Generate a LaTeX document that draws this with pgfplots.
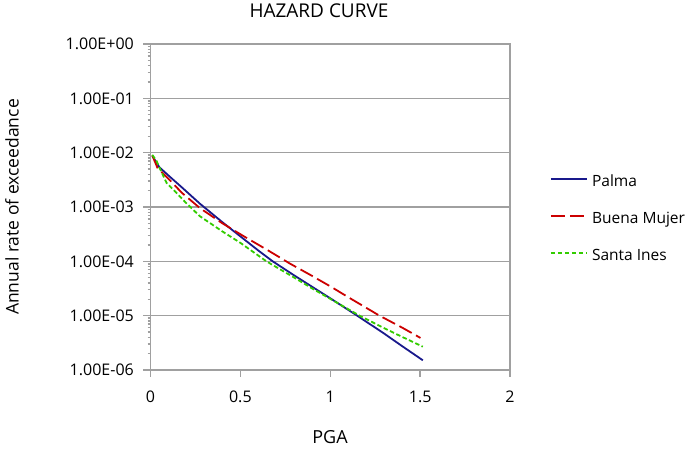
\documentclass[border=0pt]{standalone}
\usepackage{pgfplots}
\pgfplotsset{compat=1.18}
\usepackage{fontspec}
\setmainfont{Open Sans}
\definecolor{cblue}{RGB}{25,25,140}
\definecolor{cred}{RGB}{204,0,0}
\definecolor{cgreen}{RGB}{51,204,0}
\definecolor{cgrid}{RGB}{160,160,160}
\begin{document}
\begin{tikzpicture}[x=1pt,y=1pt]
\path[use as bounding box] (-150.5,-80) rectangle (536.5,370);
\begin{axis}[
  at={(0,0)}, anchor=south west,
  scale only axis, width=359.5pt, height=326pt,
  ymode=log, xmin=0, xmax=2, ymin=1e-6, ymax=1,
  xtick={0,0.5,1,1.5,2}, xticklabels={0,0.5,1,1.5,2},
  ytick={1e-6,1e-5,1e-4,1e-3,1e-2,1e-1,1},
  yticklabels={1.00E-06,1.00E-05,1.00E-04,1.00E-03,1.00E-02,1.00E-01,1.00E+00},
  minor ytick={}, minor xtick={},
  ymajorgrids, grid style={cgrid, line width=1.4pt},
  axis line style={cgrid, line width=1.5pt},
  tick align=outside, major tick length=7pt,
  tick style={cgrid, line width=1.4pt},
  xtick pos=bottom, ytick pos=left,
  xticklabel style={font=\fontsize{16}{19}\selectfont, inner sep=0pt, anchor=north, yshift=-14pt},
  yticklabel style={font=\fontsize{16}{19}\selectfont, inner sep=0pt, anchor=east, xshift=-9.5pt},
  legend style={draw=none, fill=none, at={(1,0.46)}, anchor=west, xshift=36.5pt,
    font=\fontsize{15.5}{18}\selectfont, row sep=22pt, column sep=4pt,
    nodes={inner sep=0pt, text height=11pt, text depth=4pt}},
  legend cell align=left,
  legend image code/.code={\draw[#1, line width=2.4pt] (0pt,4pt) -- (36pt,4pt);},
  clip=false,
]
\addplot[cblue, line width=1.8pt] coordinates {
(0.01,8.71e-3) (0.05,5.37e-3) (0.1,3.80e-3) (0.175,2.29e-3) (0.275,1.15e-3)
(0.4,5.25e-4) (0.5,2.88e-4) (0.6,1.58e-4) (0.68,1.00e-4) (0.8,5.50e-5)
(0.9,3.39e-5) (1.0,2.09e-5) (1.15,1.00e-5) (1.3,4.68e-6) (1.4,2.75e-6) (1.515,1.51e-6)
};
\addlegendentry{Palma}
\addplot[cred, line width=1.8pt, dash pattern=on 14pt off 5pt] coordinates {
(0.01,8.91e-3) (0.04,5.13e-3) (0.06,4.47e-3) (0.1,3.31e-3) (0.175,1.82e-3)
(0.275,9.55e-4) (0.4,5.01e-4) (0.52,2.88e-4) (0.65,1.62e-4) (0.775,9.12e-5)
(0.9,5.37e-5) (1.0,3.47e-5) (1.1,2.19e-5) (1.274,1.0e-5) (1.4,6.03e-6) (1.502,3.89e-6)
};
\addlegendentry{Buena Mujer}
\addplot[cgreen, line width=1.8pt, dash pattern=on 4.5pt off 2.5pt] coordinates {
(0.01,9.12e-3) (0.035,6.92e-3) (0.045,5.75e-3) (0.09,2.75e-3) (0.15,1.74e-3)
(0.2,1.17e-3) (0.275,6.76e-4) (0.4,3.55e-4) (0.5,2.19e-4) (0.645,1.0e-4)
(0.8,5.01e-5) (0.9,3.16e-5) (1.0,2.04e-5) (1.163,1.0e-5) (1.3,5.89e-6) (1.4,4.07e-6) (1.515,2.69e-6)
};
\addlegendentry{Santa Ines}
\end{axis}
\node[font=\fontsize{19}{22}\selectfont, inner sep=0pt] at (168.5,359) {HAZARD CURVE};
\node[font=\fontsize{18}{21}\selectfont, inner sep=0pt] at (179.5,-67) {PGA};
\node[font=\fontsize{17.5}{20}\selectfont, inner sep=0pt, rotate=90] at (-138.5,163) {Annual rate of exceedance};
\end{tikzpicture}
\end{document}
